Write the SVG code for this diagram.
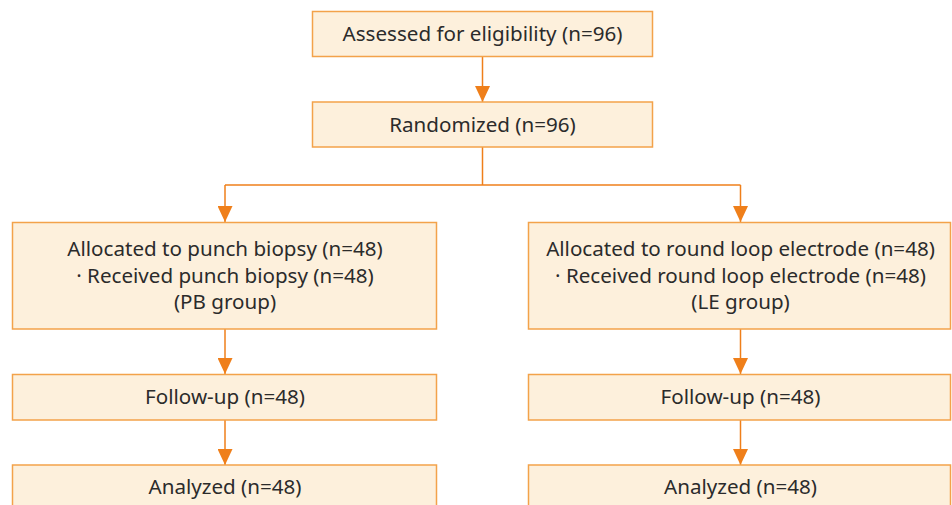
<svg xmlns="http://www.w3.org/2000/svg" width="952" height="505" viewBox="0 0 952 505">
<style>
.box{fill:#fdf0dc;stroke:#f3a24a;stroke-width:1.5}
.t{font-family:"Noto Sans","Open Sans",sans-serif;font-size:20.6px;fill:#2b2b2b;text-anchor:middle}
.c{fill:none;stroke:#ef7f1a;stroke-width:1.5}
</style>
<defs>
<marker id="ah" viewBox="0 0 16 15" refX="16" refY="7.5" markerWidth="16" markerHeight="15" markerUnits="userSpaceOnUse" orient="auto">
<path d="M0,0 L16,7.5 L0,15 Z" fill="#ef7f1a"/>
</marker>
</defs>
<rect width="952" height="505" fill="#ffffff"/>
<g id="connectors">
<line class="c" x1="482.5" y1="57" x2="482.5" y2="102" marker-end="url(#ah)"/>
<path class="c" d="M482.5,147 V185"/>
<path class="c" d="M225,185 H740.5"/>
<line class="c" x1="225" y1="185" x2="225" y2="222" marker-end="url(#ah)"/>
<line class="c" x1="740.5" y1="185" x2="740.5" y2="222" marker-end="url(#ah)"/>
<line class="c" x1="225" y1="329" x2="225" y2="374" marker-end="url(#ah)"/>
<line class="c" x1="740.5" y1="329" x2="740.5" y2="374" marker-end="url(#ah)"/>
<line class="c" x1="225" y1="420" x2="225" y2="465" marker-end="url(#ah)"/>
<line class="c" x1="740.5" y1="420" x2="740.5" y2="465" marker-end="url(#ah)"/>
</g>
<g id="assessed">
<rect class="box" x="312.5" y="11.5" width="340" height="45"/>
<text class="t" x="482.5" y="41">Assessed for eligibility (n=96)</text>
</g>
<g id="randomized">
<rect class="box" x="312.5" y="102" width="340" height="45"/>
<text class="t" x="482.5" y="132">Randomized (n=96)</text>
</g>
<g id="alloc-pb">
<rect class="box" x="12.5" y="222.5" width="424" height="106.5"/>
<text class="t" x="225" y="256">Allocated to punch biopsy (n=48)</text>
<text class="t" x="225" y="283">· Received punch biopsy (n=48)</text>
<text class="t" x="225" y="309">(PB group)</text>
</g>
<g id="alloc-le">
<rect class="box" x="528.5" y="222.5" width="422" height="106.5"/>
<text class="t" x="740.5" y="256">Allocated to round loop electrode (n=48)</text>
<text class="t" x="740.5" y="283">· Received round loop electrode (n=48)</text>
<text class="t" x="740.5" y="309">(LE group)</text>
</g>
<g id="followup-pb">
<rect class="box" x="12.5" y="374.5" width="424" height="45.5"/>
<text class="t" x="225" y="404">Follow-up (n=48)</text>
</g>
<g id="followup-le">
<rect class="box" x="528.5" y="374.5" width="422" height="45.5"/>
<text class="t" x="740.5" y="404">Follow-up (n=48)</text>
</g>
<g id="analyzed-pb">
<rect class="box" x="12.5" y="465" width="424" height="60"/>
<text class="t" x="225" y="494">Analyzed (n=48)</text>
</g>
<g id="analyzed-le">
<rect class="box" x="528.5" y="465" width="422" height="60"/>
<text class="t" x="740.5" y="494">Analyzed (n=48)</text>
</g>
</svg>
